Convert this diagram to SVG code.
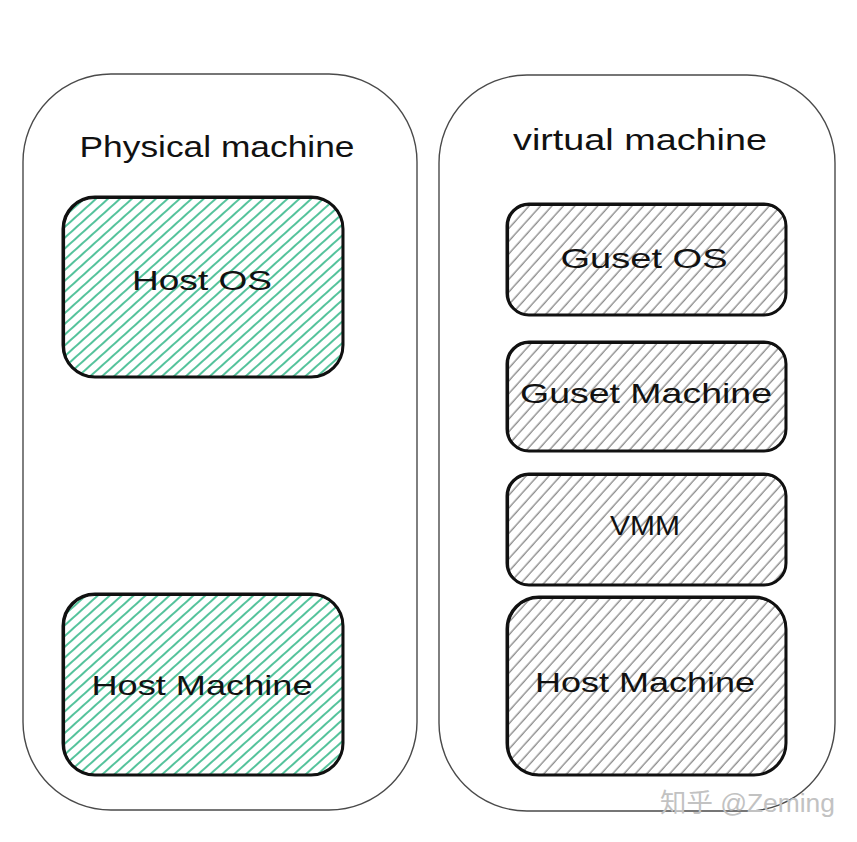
<svg xmlns="http://www.w3.org/2000/svg" width="857" height="842" viewBox="0 0 857 842">
  <style>
    .outer { fill: #ffffff; stroke: #4a4a4a; stroke-width: 1.4; }
    .box { stroke: #111111; stroke-width: 3; }
    .box2 { fill: none; stroke: #111111; stroke-width: 1.2; }
    .green { fill: url(#hatchGreen); }
    .gray { fill: url(#hatchGray); }
    .title { font-family: "Liberation Sans", "DejaVu Sans", sans-serif; font-size: 30px; fill: #111111; text-anchor: middle; }
    .label { font-family: "Liberation Sans", "DejaVu Sans", sans-serif; font-size: 28px; fill: #111111; text-anchor: middle; }
    .wm { font-family: "Liberation Sans", "Noto Sans CJK SC", sans-serif; font-size: 26px; fill: #c2c2c2; }
  </style>
  <defs>
    <pattern id="hatchGreen" patternUnits="userSpaceOnUse" width="8" height="8" patternTransform="rotate(48)">
      <line x1="4" y1="-1" x2="4" y2="9" stroke="#36b88a" stroke-width="1.7"/>
    </pattern>
    <pattern id="hatchGray" patternUnits="userSpaceOnUse" width="8.5" height="8" patternTransform="rotate(42)">
      <line x1="4" y1="-1" x2="4" y2="9" stroke="#8c8c8c" stroke-width="1.4"/>
    </pattern>
  </defs>
  <rect width="857" height="842" fill="#ffffff"/>

  <g id="physical-machine">
    <rect class="outer" x="23" y="74" width="394" height="736" rx="88" ry="88"/>
    <text class="title" x="217" y="157" textLength="275" lengthAdjust="spacingAndGlyphs">Physical machine</text>
  </g>

  <g id="virtual-machine">
    <rect class="outer" x="439" y="75" width="396" height="736" rx="88" ry="88"/>
    <text class="title" x="640" y="150" textLength="254" lengthAdjust="spacingAndGlyphs">virtual machine</text>
  </g>

  <g id="host-os">
    <rect class="box green" x="63" y="197" width="280" height="180" rx="32" ry="32"/>
    <rect class="box2" x="64.5" y="198.5" width="278" height="178" rx="30" ry="30"/>
    <text class="label" x="202" y="290" textLength="140" lengthAdjust="spacingAndGlyphs">Host OS</text>
  </g>

  <g id="host-machine-physical">
    <rect class="box green" x="63" y="594" width="280" height="181" rx="32" ry="32"/>
    <rect class="box2" x="64.5" y="595.5" width="278" height="179" rx="30" ry="30"/>
    <text class="label" x="202" y="695" textLength="221" lengthAdjust="spacingAndGlyphs">Host Machine</text>
  </g>

  <g id="guest-os">
    <rect class="box gray" x="507" y="204" width="279" height="111" rx="22" ry="22"/>
    <rect class="box2" x="508.5" y="205.5" width="277" height="109" rx="20" ry="20"/>
    <text class="label" x="644" y="268" textLength="167" lengthAdjust="spacingAndGlyphs">Guset OS</text>
  </g>

  <g id="guest-machine">
    <rect class="box gray" x="507" y="342" width="279" height="109" rx="22" ry="22"/>
    <rect class="box2" x="508.5" y="343.5" width="277" height="107" rx="20" ry="20"/>
    <text class="label" x="646" y="403" textLength="252" lengthAdjust="spacingAndGlyphs">Guset Machine</text>
  </g>

  <g id="vmm">
    <rect class="box gray" x="507" y="474" width="279" height="111" rx="22" ry="22"/>
    <rect class="box2" x="508.5" y="475.5" width="277" height="109" rx="20" ry="20"/>
    <text class="label" x="645" y="535" textLength="70" lengthAdjust="spacingAndGlyphs">VMM</text>
  </g>

  <g id="host-machine-virtual">
    <rect class="box gray" x="507" y="597" width="279" height="178" rx="32" ry="32"/>
    <rect class="box2" x="508.5" y="598.5" width="277" height="176" rx="30" ry="30"/>
    <text class="label" x="645" y="692" textLength="220" lengthAdjust="spacingAndGlyphs">Host Machine</text>
  </g>

  <g id="connectors"></g>

  <text class="wm" x="660" y="812" textLength="175" lengthAdjust="spacingAndGlyphs">知乎 @Zeming</text>
</svg>
